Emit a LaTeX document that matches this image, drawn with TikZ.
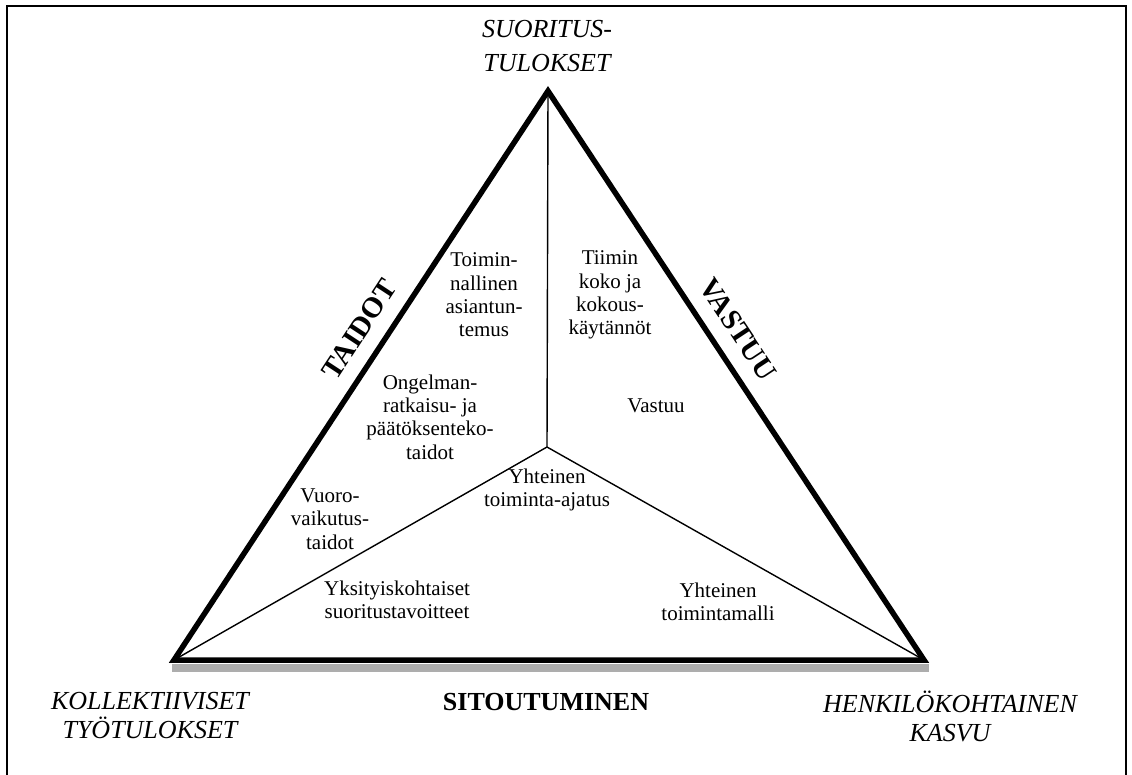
\documentclass[tikz,border=0pt]{standalone}
\usepackage{fontspec}
\setmainfont{Liberation Serif}
\begin{document}
\begin{tikzpicture}[x=1pt,y=-1pt,
  body/.style={align=center, font=\fontsize{21}{23.3}\selectfont, inner sep=0pt},
  corner/.style={align=center, font=\fontsize{26}{29}\selectfont\itshape, inner sep=0pt},
  sidelabel/.style={font=\fontsize{29}{30}\selectfont\bfseries, inner sep=0pt},
  edgeline/.style={line width=5.5pt, line join=miter},
  spoke/.style={line width=1.4pt},
  frameline/.style={line width=2.5pt}]
\useasboundingbox (0,0) rectangle (1132,774);
% frame (bottom cropped)
\coordinate (f1) at (7,780);
\coordinate (f2) at (7,6);
\coordinate (f3) at (1126,6);
\coordinate (f4) at (1126,780);
\draw[frameline] (f1) -- (f2) -- (f3) -- (f4);
% triangle
\coordinate (A) at (548,91);
\coordinate (L) at (174,660);
\coordinate (R) at (924,660);
\coordinate (C) at (547,447);
\coordinate (g1) at (172,664);
\coordinate (g2) at (929,672);
\fill[black!32] (g1) rectangle (g2);
\draw[spoke] (C) -- (A);
\draw[spoke] (C) -- (L);
\draw[spoke] (C) -- (R);
\draw[edgeline] (A) -- (L) -- (R) -- cycle;
% side labels
\path (L) -- node[pos=0.555, sloped, above=17pt, sidelabel] (taidot) {TAIDOT} (A);
\path (A) -- node[pos=0.445, sloped, above=17pt, sidelabel] (vastuu) {VASTUU} (R);
% corner labels
\node[corner, font=\fontsize{26}{34}\selectfont\itshape] (top) at (547,46) {SUORITUS-\\TULOKSET};
\node[corner] (kol) at (150,716) {KOLLEKTIIVISET\\TYÖTULOKSET};
\node[corner] (hen) at (950,716) {HENKILÖKOHTAINEN\\KASVU};
\node[font=\fontsize{26}{29}\selectfont\bfseries, inner sep=0pt] (sit) at (546,702) {SITOUTUMINEN};
% inner texts
\node[body] (t1) at (484,295) {Toimin-\\nallinen\\asiantun-\\temus};
\node[body] (t2) at (610,295) {Tiimin\\koko ja\\kokous-\\käytännöt};
\node[body] (t3) at (430,417) {Ongelman-\\ratkaisu- ja\\päätöksenteko-\\taidot};
\node[body] (t4) at (656,406) {Vastuu};
\node[body] (t5) at (330,519) {Vuoro-\\vaikutus-\\taidot};
\node[body] (t6) at (547,490) {Yhteinen\\toiminta-ajatus};
\node[body] (t7) at (397,600) {Yksityiskohtaiset\\suoritustavoitteet};
\node[body] (t8) at (718,602) {Yhteinen\\toimintamalli};
\end{tikzpicture}
\end{document}
